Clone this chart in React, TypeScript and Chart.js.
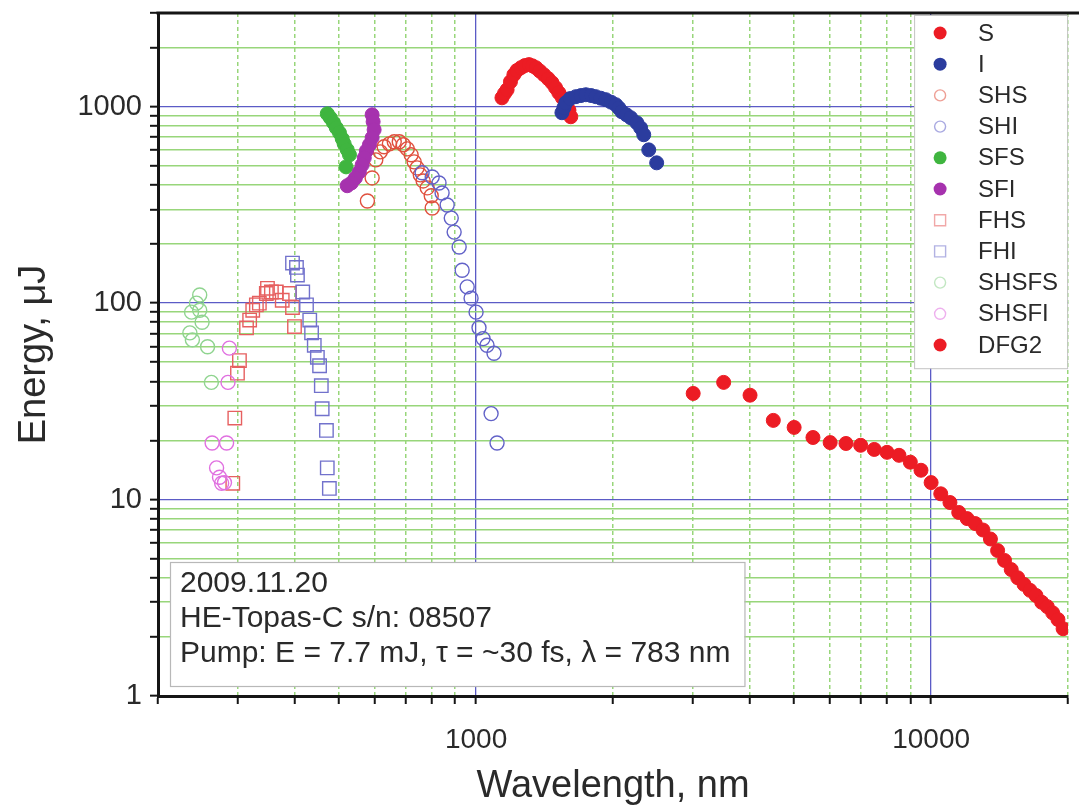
import React, { useEffect, useRef } from 'react';
import { Chart, registerables } from 'chart.js';

Chart.register(...registerables);

const FONT = "'Liberation Sans', Arial, Helvetica, sans-serif";

// ---- axes ----
const xMin = 200;
const xMax = 20000;
const yMin = 1;
const yMax = 3000;
const xTickValues = [200, 300, 400, 500, 600, 700, 800, 900, 1000, 2000, 3000, 4000, 5000, 6000, 7000, 8000, 9000, 10000, 20000];
const yTickValues = [1, 2, 3, 4, 5, 6, 7, 8, 9, 10, 20, 30, 40, 50, 60, 70, 80, 90, 100, 200, 300, 400, 500, 600, 700, 800, 900, 1000, 2000, 3000];
const xLabelValues = [1000, 10000];
const yLabelValues = [1, 10, 100, 1000];

// ---- data (wavelength nm, energy uJ) ----
const sWavelength = [1140, 1155, 1170, 1190, 1211, 1230, 1255, 1280, 1307, 1330, 1354, 1380, 1409, 1440, 1468, 1495, 1520, 1548, 1575, 1600, 1615];
const sEnergy = [1110, 1170, 1220, 1340, 1456, 1530, 1580, 1620, 1638, 1615, 1580, 1520, 1456, 1390, 1326, 1250, 1178, 1110, 1048, 960, 889];

const iWavelength = [1544, 1560, 1575, 1610, 1657, 1700, 1743, 1790, 1833, 1880, 1928, 1980, 2028, 2060, 2090, 2140, 2187, 2255, 2300, 2336, 2396, 2494];
const iEnergy = [932, 990, 1048, 1100, 1125, 1140, 1151, 1140, 1125, 1105, 1086, 1055, 1024, 985, 943, 910, 879, 829, 780, 720, 603, 518];

const shsWavelength = [577, 591, 602, 616, 628, 645, 661, 678, 692, 706, 720, 731, 742, 754, 765, 781, 797, 801];
const shsEnergy = [331, 434, 536, 589, 625, 647, 663, 663, 640, 610, 569, 524, 488, 450, 419, 386, 352, 305];

const shiWavelength = [761, 801, 829, 842, 864, 882, 895, 918, 932, 956, 975, 1000, 1015, 1036, 1057, 1095, 1079, 1112];
const shiEnergy = [461, 439, 409, 364, 316, 271, 230, 193, 147, 121, 106, 90, 75, 66, 61, 55.6, 27.4, 19.4];

const sfsWavelength = [471, 478, 486, 493, 501, 508, 513, 521, 527, 518];
const sfsEnergy = [921, 879, 829, 781, 737, 687, 647, 604, 569, 494];

const sfiWavelength = [591, 594, 597, 591, 583, 574, 568, 562, 554, 543, 532, 521];
const sfiEnergy = [910, 838, 763, 695, 640, 596, 549, 506, 466, 434, 409, 396];

const fhsWavelength = [313, 318, 323, 329, 334, 346, 348, 355, 364, 375, 389, 395, 399, 302, 299, 295, 292];
const fhsEnergy = [74.8, 82, 92, 98, 100, 112, 119, 114, 114, 103.5, 112, 95, 76, 51, 44, 26, 12.1];

const fhiWavelength = [395, 403, 405, 416, 424, 431, 435, 441, 448, 453, 457, 459, 469, 471, 476];
const fhiEnergy = [160, 152, 139, 114, 98, 82, 70.6, 61, 53, 48, 38, 29, 22.5, 14.5, 11.4];

const shsfsWavelength = [247, 243, 247, 237, 250, 235, 238, 257, 262];
const shsfsEnergy = [110, 100, 92, 90, 80, 70.6, 65, 60, 39.5];

const shsfiWavelength = [287, 285, 263, 283, 269, 273, 276, 280];
const shsfiEnergy = [59, 39.5, 19.4, 19.4, 14.5, 13, 12.1, 12.2];

const dfg2Wavelength = [3000, 3500, 4000, 4500, 5000, 5500, 6000, 6500, 7000, 7500, 8000, 8500, 9000, 9500, 10000, 10500, 11000, 11500, 12000, 12500, 13000, 13500, 14000, 14500, 15000, 15500, 16000, 16500, 17000, 17500, 18000, 18500, 19000, 19500];
const dfg2Energy = [34.7, 39.5, 34, 25.3, 23.3, 20.7, 19.5, 19.3, 18.9, 18.0, 17.4, 16.8, 15.5, 14.1, 12.2, 10.7, 9.66, 8.6, 8.0, 7.55, 7.0, 6.3, 5.5, 4.9, 4.4, 4.0, 3.7, 3.45, 3.25, 3.0, 2.85, 2.65, 2.45, 2.2];

const infoLines = ['2009.11.20', 'HE-Topas-C s/n: 08507', 'Pump: E = 7.7 mJ, \u03c4 = ~30 fs, \u03bb = 783 nm'];

// ---- styles ----
type Style = { label: string; shape: 'circle' | 'rect'; filled: boolean; color: string };
const styles: Style[] = [
  { label: 'S', shape: 'circle', filled: true, color: '#ec1c24' },
  { label: 'I', shape: 'circle', filled: true, color: '#2b3c9e' },
  { label: 'SHS', shape: 'circle', filled: false, color: '#e0503e' },
  { label: 'SHI', shape: 'circle', filled: false, color: '#6262c8' },
  { label: 'SFS', shape: 'circle', filled: true, color: '#3fb53f' },
  { label: 'SFI', shape: 'circle', filled: true, color: '#a632ae' },
  { label: 'FHS', shape: 'rect', filled: false, color: '#e66060' },
  { label: 'FHI', shape: 'rect', filled: false, color: '#7272cc' },
  { label: 'SHSFS', shape: 'circle', filled: false, color: '#8fd48f' },
  { label: 'SHSFI', shape: 'circle', filled: false, color: '#e070e0' },
  { label: 'DFG2', shape: 'circle', filled: true, color: '#ec1c24' },
];

const seriesX = [sWavelength, iWavelength, shsWavelength, shiWavelength, sfsWavelength, sfiWavelength, fhsWavelength, fhiWavelength, shsfsWavelength, shsfiWavelength, dfg2Wavelength];
const seriesY = [sEnergy, iEnergy, shsEnergy, shiEnergy, sfsEnergy, sfiEnergy, fhsEnergy, fhiEnergy, shsfsEnergy, shsfiEnergy, dfg2Energy];

const BLUE_GRID = '#5b5bc6';
const GREEN_GRID = '#98d67a';

function drawMarker(ctx: CanvasRenderingContext2D, st: Style, x: number, y: number, r: number) {
  ctx.save();
  ctx.beginPath();
  if (st.shape === 'rect') {
    ctx.rect(x - r, y - r, 2 * r, 2 * r);
  } else {
    ctx.arc(x, y, r, 0, Math.PI * 2);
  }
  if (st.filled) {
    ctx.fillStyle = st.color;
    ctx.fill();
  } else {
    ctx.globalAlpha = 0.55;
    ctx.lineWidth = 1.4;
    ctx.strokeStyle = st.color;
    ctx.stroke();
  }
  ctx.restore();
}

const overlayPlugin = {
  id: 'overlay',
  afterDatasetsDraw(chart: any) {
    const { ctx, chartArea: a } = chart;
    ctx.save();
    // info box
    ctx.font = `30px ${FONT}`;
    const lh = 35;
    let tw = 0;
    infoLines.forEach((t) => { tw = Math.max(tw, ctx.measureText(t).width); });
    const bw = tw + 24;
    const bh = lh * infoLines.length + 19;
    const bx = a.left + 12;
    const by = a.bottom - 10 - bh;
    ctx.fillStyle = '#ffffff';
    ctx.fillRect(bx, by, bw, bh);
    ctx.strokeStyle = '#b8b8b8';
    ctx.lineWidth = 1.2;
    ctx.strokeRect(bx + 0.5, by + 0.5, bw, bh);
    ctx.fillStyle = '#2a2a2a';
    ctx.textBaseline = 'middle';
    ctx.textAlign = 'left';
    infoLines.forEach((t, i) => ctx.fillText(t, bx + 10, by + 22 + i * lh));

    // legend box
    const rowH = 31.2;
    const lw = 153;
    const lhgt = rowH * styles.length + 10;
    const lx = a.right - lw - 1;
    const ly = a.top + 2;
    ctx.fillStyle = '#ffffff';
    ctx.fillRect(lx, ly, lw, lhgt);
    ctx.strokeStyle = '#c4c4c4';
    ctx.lineWidth = 1;
    ctx.strokeRect(lx + 0.5, ly + 0.5, lw, lhgt);
    ctx.font = `24px ${FONT}`;
    styles.forEach((st, i) => {
      const cy = ly + 18 + i * rowH;
      drawMarker(ctx, st, lx + 26, cy, st.filled ? 6.5 : 5.5);
      ctx.fillStyle = '#2a2a2a';
      ctx.fillText(st.label, lx + 64, cy + 1);
    });

    ctx.restore();
  },
  afterDraw(chart: any) {
    const { ctx, chartArea: a } = chart;
    ctx.save();
    ctx.strokeStyle = '#151515';
    ctx.lineWidth = 3;
    ctx.beginPath();
    ctx.moveTo(a.left - 1.5, a.top);
    ctx.lineTo(chart.width, a.top);
    ctx.stroke();
    ctx.restore();
  },
};

const zeroPadding = (scale: any) => {
  scale.paddingTop = 0;
  scale.paddingBottom = 0;
  scale.paddingLeft = 0;
  scale.paddingRight = 0;
};

export default function App() {
  const ref = useRef<HTMLCanvasElement>(null);

  useEffect(() => {
    document.body.style.margin = '0';
    const canvas = ref.current;
    if (!canvas) return;

    const datasets = styles.map((st, i) => ({
      label: st.label,
      data: seriesX[i].map((x, j) => ({ x, y: seriesY[i][j] })),
      showLine: false,
      pointStyle: st.shape === 'rect' ? 'rect' : 'circle',
      pointRadius: st.shape === 'rect' ? 9.5 : 7,
      pointBorderWidth: st.filled ? 1 : 1.4,
      backgroundColor: st.filled ? st.color : 'rgba(0,0,0,0)',
      borderColor: st.color,
      order: -i,
    }));

    const isMajorX = (v: number) => xLabelValues.includes(v);
    const isMajorY = (v: number) => yLabelValues.includes(v);

    const chart = new Chart(canvas, {
      type: 'scatter',
      data: { datasets },
      plugins: [overlayPlugin],
      options: {
        animation: false,
        responsive: false,
        events: [],
        layout: { padding: { left: 0, right: 5, top: 13, bottom: 0 } },
        plugins: { legend: { display: false }, tooltip: { enabled: false } },
        scales: {
          x: {
            type: 'logarithmic',
            min: xMin,
            max: xMax,
            afterBuildTicks: (scale: any) => {
              scale.ticks = xTickValues.map((v) => ({ value: v }));
            },
            afterFit: (scale: any) => {
              scale.height = 113;
              zeroPadding(scale);
            },
            ticks: {
              autoSkip: false,
              maxRotation: 0,
              minRotation: 0,
              padding: 19,
              color: '#2a2a2a',
              font: { family: FONT, size: 28 },
              callback: (v: any) => (isMajorX(Number(v)) ? String(v) : ''),
            },
            grid: {
              color: (c: any) => (c.tick && isMajorX(c.tick.value) ? BLUE_GRID : GREEN_GRID),
              lineWidth: (c: any) => (c.tick && isMajorX(c.tick.value) ? 1.3 : 1.5),
              tickColor: '#151515',
              tickWidth: 2,
              tickLength: 8,
            },
            border: {
              display: true,
              color: '#151515',
              width: 3,
              dash: (c: any) => (c.tick && !isMajorX(c.tick.value) ? [4, 3] : []),
            },
            title: {
              display: true,
              text: 'Wavelength, nm',
              color: '#2a2a2a',
              font: { family: FONT, size: 38 },
              padding: { top: 0, bottom: 0 },
            },
          },
          y: {
            type: 'logarithmic',
            min: yMin,
            max: yMax,
            afterBuildTicks: (scale: any) => {
              scale.ticks = yTickValues.map((v) => ({ value: v }));
            },
            afterFit: (scale: any) => {
              scale.width = 158;
              zeroPadding(scale);
            },
            ticks: {
              autoSkip: false,
              padding: 8,
              color: '#2a2a2a',
              font: { family: FONT, size: 29 },
              callback: (v: any) => (isMajorY(Number(v)) ? String(v) : ''),
            },
            grid: {
              color: (c: any) => (c.tick && isMajorY(c.tick.value) ? BLUE_GRID : GREEN_GRID),
              lineWidth: (c: any) => (c.tick && isMajorY(c.tick.value) ? 1.3 : 1.6),
              tickColor: '#151515',
              tickWidth: 2,
              tickLength: 8,
            },
            border: { display: true, color: '#151515', width: 3 },
            title: {
              display: true,
              text: 'Energy, \u03bcJ',
              color: '#2a2a2a',
              font: { family: FONT, size: 38 },
              padding: { top: 12, bottom: 0 },
            },
          },
        },
      } as any,
    });

    return () => chart.destroy();
  }, []);

  return (
    <div style={{ width: 1079, height: 809, background: '#fff' }}>
      <canvas ref={ref} width={1079} height={809} style={{ display: 'block' }} />
    </div>
  );
}
